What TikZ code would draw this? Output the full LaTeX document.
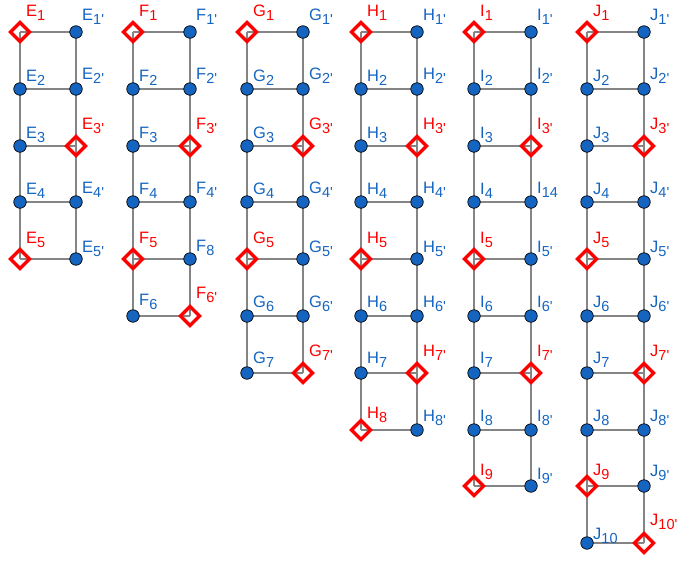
\documentclass[tikz,border=0pt]{standalone}
\usepackage{fontspec}
\setmainfont{Liberation Sans}
\usetikzlibrary{shapes.geometric,backgrounds}

\definecolor{ptblue}{HTML}{1565C0}
\definecolor{ptred}{HTML}{FF0000}
\definecolor{rungray}{HTML}{858585}

% point name with a subscript
\newcommand{\nm}[2]{#1\raisebox{-4pt}{\fontsize{14.5}{14.5}\selectfont #2}}
\newcommand{\prm}{\textquotesingle}

\tikzset{
  bluedot/.style={circle, fill=ptblue, draw=black, line width=0.7pt,
    minimum size=12.5pt, inner sep=0pt},
  reddiamond/.style={diamond, draw=ptred, line width=3.3pt,
    minimum width=20.5pt, minimum height=20.5pt, inner sep=0pt},
  bluelabel/.style={text=ptblue, anchor=base west, inner sep=0pt,
    font=\fontsize{16.5}{16.5}\selectfont},
  redlabel/.style={bluelabel, text=ptred},
  rung/.style={draw=rungray, line width=2.4pt},
}

% #1 name, #2 x, #3 y, #4 label, #5 label height above the point
\newcommand{\bluepoint}[5]{%
  \node[bluedot] (#1) at (#2,#3) {};
  \node[bluelabel] (#1t) at ([shift={(6pt,#5pt)}]#1.center) {#4};}
\newcommand{\redpoint}[5]{%
  \node[reddiamond] (#1) at (#2,#3) {};
  \node[redlabel] (#1t) at ([shift={(6pt,#5pt)}]#1.center) {#4};}

\begin{document}
\begin{tikzpicture}[x=1pt,y=-1pt]
\useasboundingbox (0,0) rectangle (679,560);

% ---- ladder E ----
\redpoint{E1}{20}{32}{\nm{E}{1}}{16}
\bluepoint{Ep1}{76}{32}{\nm{E}{1\prm}}{12}
\bluepoint{E2}{20}{89}{\nm{E}{2}}{8}
\bluepoint{Ep2}{76}{89}{\nm{E}{2\prm}}{10}
\bluepoint{E3}{20}{146}{\nm{E}{3}}{8}
\redpoint{Ep3}{76}{146}{\nm{E}{3\prm}}{17}
\bluepoint{E4}{20}{202}{\nm{E}{4}}{8}
\bluepoint{Ep4}{76}{202}{\nm{E}{4\prm}}{9}
\redpoint{E5}{20}{259}{\nm{E}{5}}{16}
\bluepoint{Ep5}{76}{259}{\nm{E}{5\prm}}{7}

% ---- ladder F ----
\redpoint{F1}{133}{32}{\nm{F}{1}}{16}
\bluepoint{Fp1}{190}{32}{\nm{F}{1\prm}}{12}
\bluepoint{F2}{133}{89}{\nm{F}{2}}{8}
\bluepoint{Fp2}{190}{89}{\nm{F}{2\prm}}{10}
\bluepoint{F3}{133}{146}{\nm{F}{3}}{8}
\redpoint{Fp3}{190}{146}{\nm{F}{3\prm}}{17}
\bluepoint{F4}{133}{202}{\nm{F}{4}}{8}
\bluepoint{Fp4}{190}{202}{\nm{F}{4\prm}}{9}
\redpoint{F5}{133}{259}{\nm{F}{5}}{16}
\bluepoint{Fp5}{190}{259}{\nm{F}{8}}{8}
\bluepoint{F6}{133}{316}{\nm{F}{6}}{11}
\redpoint{Fp6}{190}{316}{\nm{F}{6\prm}}{18}

% ---- ladder G ----
\redpoint{G1}{247}{32}{\nm{G}{1}}{16}
\bluepoint{Gp1}{303}{32}{\nm{G}{1\prm}}{12}
\bluepoint{G2}{247}{89}{\nm{G}{2}}{8}
\bluepoint{Gp2}{303}{89}{\nm{G}{2\prm}}{10}
\bluepoint{G3}{247}{146}{\nm{G}{3}}{8}
\redpoint{Gp3}{303}{146}{\nm{G}{3\prm}}{17}
\bluepoint{G4}{247}{202}{\nm{G}{4}}{8}
\bluepoint{Gp4}{303}{202}{\nm{G}{4\prm}}{9}
\redpoint{G5}{247}{259}{\nm{G}{5}}{16}
\bluepoint{Gp5}{303}{259}{\nm{G}{5\prm}}{7}
\bluepoint{G6}{247}{316}{\nm{G}{6}}{9}
\bluepoint{Gp6}{303}{316}{\nm{G}{6\prm}}{9}
\bluepoint{G7}{247}{373}{\nm{G}{7}}{10}
\redpoint{Gp7}{303}{373}{\nm{G}{7\prm}}{17}

% ---- ladder H ----
\redpoint{H1}{361}{32}{\nm{H}{1}}{16}
\bluepoint{Hp1}{417}{32}{\nm{H}{1\prm}}{12}
\bluepoint{H2}{361}{89}{\nm{H}{2}}{8}
\bluepoint{Hp2}{417}{89}{\nm{H}{2\prm}}{10}
\bluepoint{H3}{361}{146}{\nm{H}{3}}{8}
\redpoint{Hp3}{417}{146}{\nm{H}{3\prm}}{17}
\bluepoint{H4}{361}{202}{\nm{H}{4}}{8}
\bluepoint{Hp4}{417}{202}{\nm{H}{4\prm}}{9}
\redpoint{H5}{361}{259}{\nm{H}{5}}{16}
\bluepoint{Hp5}{417}{259}{\nm{H}{5\prm}}{7}
\bluepoint{H6}{361}{316}{\nm{H}{6}}{9}
\bluepoint{Hp6}{417}{316}{\nm{H}{6\prm}}{9}
\bluepoint{H7}{361}{373}{\nm{H}{7}}{10}
\redpoint{Hp7}{417}{373}{\nm{H}{7\prm}}{17}
\redpoint{H8}{361}{430}{\nm{H}{8}}{12}
\bluepoint{Hp8}{417}{430}{\nm{H}{8\prm}}{9}

% ---- ladder I ----
\redpoint{I1}{474}{32}{\nm{I}{1}}{16}
\bluepoint{Ip1}{531}{32}{\nm{I}{1\prm}}{12}
\bluepoint{I2}{474}{89}{\nm{I}{2}}{8}
\bluepoint{Ip2}{531}{89}{\nm{I}{2\prm}}{10}
\bluepoint{I3}{474}{146}{\nm{I}{3}}{8}
\redpoint{Ip3}{531}{146}{\nm{I}{3\prm}}{17}
\bluepoint{I4}{474}{202}{\nm{I}{4}}{8}
\bluepoint{Ip4}{531}{202}{\nm{I}{14}}{9}
\redpoint{I5}{474}{259}{\nm{I}{5}}{16}
\bluepoint{Ip5}{531}{259}{\nm{I}{5\prm}}{7}
\bluepoint{I6}{474}{316}{\nm{I}{6}}{9}
\bluepoint{Ip6}{531}{316}{\nm{I}{6\prm}}{9}
\bluepoint{I7}{474}{373}{\nm{I}{7}}{10}
\redpoint{Ip7}{531}{373}{\nm{I}{7\prm}}{17}
\bluepoint{I8}{474}{430}{\nm{I}{8}}{9}
\bluepoint{Ip8}{531}{430}{\nm{I}{8\prm}}{9}
\redpoint{I9}{474}{486}{\nm{I}{9}}{11}
\bluepoint{Ip9}{531}{486}{\nm{I}{9\prm}}{7}

% ---- ladder J ----
\redpoint{J1}{587}{32}{\nm{J}{1}}{16}
\bluepoint{Jp1}{644}{32}{\nm{J}{1\prm}}{12}
\bluepoint{J2}{587}{89}{\nm{J}{2}}{8}
\bluepoint{Jp2}{644}{89}{\nm{J}{2\prm}}{10}
\bluepoint{J3}{587}{146}{\nm{J}{3}}{8}
\redpoint{Jp3}{644}{146}{\nm{J}{3\prm}}{17}
\bluepoint{J4}{587}{202}{\nm{J}{4}}{8}
\bluepoint{Jp4}{644}{202}{\nm{J}{4\prm}}{9}
\redpoint{J5}{587}{259}{\nm{J}{5}}{16}
\bluepoint{Jp5}{644}{259}{\nm{J}{5\prm}}{7}
\bluepoint{J6}{587}{316}{\nm{J}{6}}{9}
\bluepoint{Jp6}{644}{316}{\nm{J}{6\prm}}{9}
\bluepoint{J7}{587}{373}{\nm{J}{7}}{10}
\redpoint{Jp7}{644}{373}{\nm{J}{7\prm}}{17}
\bluepoint{J8}{587}{430}{\nm{J}{8}}{9}
\bluepoint{Jp8}{644}{430}{\nm{J}{8\prm}}{9}
\redpoint{J9}{587}{486}{\nm{J}{9}}{11}
\bluepoint{Jp9}{644}{486}{\nm{J}{9\prm}}{10}
\bluepoint{J10}{587}{543}{\nm{J}{10}}{4}
\redpoint{Jp10}{644}{543}{\nm{J}{10\prm}}{18}

% ---- rails and rungs, behind the points ----
\begin{scope}[on background layer]
  \foreach \L/\n/\m in {E/5/4, F/6/5, G/7/6, H/8/7, I/9/8, J/10/9} {
    \foreach \k in {1,...,\n}
      \draw[rung] (\L\k.center) -- (\L p\k.center);
    \foreach \k [evaluate=\k as \kk using int(\k+1)] in {1,...,\m} {
      \draw[rung] (\L\k.center) -- (\L\kk.center);
      \draw[rung] (\L p\k.center) -- (\L p\kk.center);
    }
  }
\end{scope}
\end{tikzpicture}
\end{document}
